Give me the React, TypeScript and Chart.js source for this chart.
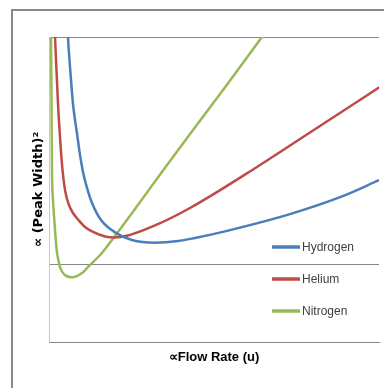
import { useEffect, useRef } from "react";
import { Chart, registerables } from "chart.js";

Chart.register(...registerables);

// ---- data ----
const seriesNames = ["Hydrogen", "Helium", "Nitrogen"];
const seriesColors = ["#4a7ebb", "#be4b48", "#98b954"];

const hydrogenX = [0.53, 0.576, 0.621, 0.667, 0.727, 0.788, 0.864, 0.939, 1.03, 1.152, 1.303, 1.576, 2.05, 2.51, 3.21, 3.91, 4.42, 5.27, 7.3, 8.82, 10.0];
const hydrogenY = [4.6, 3.961, 3.662, 3.403, 3.091, 2.883, 2.662, 2.429, 2.208, 2.0, 1.805, 1.584, 1.41, 1.325, 1.29, 1.31, 1.35, 1.43, 1.66, 1.88, 2.1];

const heliumX = [0.14, 0.182, 0.227, 0.273, 0.333, 0.409, 0.485, 0.591, 0.727, 0.894, 1.091, 1.303, 1.697, 2.0, 2.394, 3.212, 4.273, 6.303, 8.303, 10.03];
const heliumY = [4.5, 3.961, 3.532, 3.091, 2.662, 2.234, 1.974, 1.792, 1.675, 1.584, 1.494, 1.435, 1.37, 1.357, 1.383, 1.513, 1.74, 2.273, 2.831, 3.312];

const nitrogenX = [0.055, 0.061, 0.076, 0.091, 0.121, 0.161, 0.233, 0.333, 0.485, 0.706, 0.991, 1.191, 1.597, 1.948, 2.606, 3.455, 4.273, 5.364, 6.455, 7.0];
const nitrogenY = [4.6, 3.961, 3.143, 2.208, 1.844, 1.584, 1.195, 0.974, 0.87, 0.84, 0.892, 0.978, 1.152, 1.347, 1.727, 2.227, 2.701, 3.325, 3.961, 4.27];

const xMin = 0;
const xMax = 10;
const yTicks = [0, 1, 3.96];

const xTitle = "∝Flow Rate (u)";
const yTitle = "∝ (Peak Width)²";

const seriesX = [hydrogenX, heliumX, nitrogenX];
const seriesY = [hydrogenY, heliumY, nitrogenY];

const framePlugin = {
  id: "frame",
  beforeDraw(chart: any) {
    const ctx = chart.ctx;
    ctx.save();
    ctx.fillStyle = "#ffffff";
    ctx.fillRect(0, 0, chart.width, chart.height);
    ctx.strokeStyle = "#8a8a8a";
    ctx.lineWidth = 2;
    ctx.strokeRect(12, 10, chart.width + 50, chart.height + 50);
    ctx.restore();
  },
};

const legendPlugin = {
  id: "innerLegend",
  afterDraw(chart: any) {
    const { ctx, chartArea } = chart;
    const x0 = chartArea.right - 107;
    const y0 = chartArea.top + 210;
    ctx.save();
    chart.data.datasets.forEach((ds: any, i: number) => {
      const y = y0 + i * 32;
      ctx.strokeStyle = ds.borderColor;
      ctx.lineWidth = 3.5;
      ctx.lineCap = "butt";
      ctx.beginPath();
      ctx.moveTo(x0, y);
      ctx.lineTo(x0 + 28, y);
      ctx.stroke();
      ctx.fillStyle = "#404040";
      ctx.font = "12px 'Liberation Sans', Arial, sans-serif";
      ctx.textBaseline = "middle";
      ctx.textAlign = "left";
      ctx.fillText(ds.label, x0 + 30, y + 0.5);
    });
    ctx.restore();
  },
};

export default function App() {
  const ref = useRef<HTMLCanvasElement | null>(null);

  useEffect(() => {
    if (!ref.current) return;
    const datasets = seriesNames.map((name, i) => ({
      label: name,
      data: seriesX[i].map((x, j) => ({ x, y: seriesY[i][j] })),
      borderColor: seriesColors[i],
      backgroundColor: seriesColors[i],
      borderWidth: 2.5,
      pointRadius: 0,
      cubicInterpolationMode: "monotone" as const,
      fill: false,
    }));
    const chart = new Chart(ref.current, {
      type: "line",
      data: { datasets },
      options: {
        responsive: false,
        animation: false,
        layout: { padding: { left: 31.2, top: 37, right: 5, bottom: 23.2 } },
        plugins: {
          legend: { display: false },
          tooltip: { enabled: false },
        },
        scales: {
          x: {
            type: "linear",
            min: xMin,
            max: xMax,
            grid: { display: false, drawTicks: false },
            border: { display: true, color: "#868686" },
            ticks: { display: false },
            title: {
              display: true,
              text: xTitle,
              color: "#000000",
              font: { family: "'Liberation Sans', Arial, sans-serif", size: 13, weight: "bold", lineHeight: 1.2 },
              padding: { top: 7.2, bottom: 0 },
            },
          },
          y: {
            type: "linear",
            min: yTicks[0],
            max: yTicks[yTicks.length - 1],
            afterBuildTicks: (scale: any) => {
              scale.ticks = yTicks.map((v) => ({ value: v }));
            },
            grid: { display: true, color: "#868686", lineWidth: 1, drawTicks: false },
            border: { display: true, color: "#c8c8c8" },
            ticks: { display: false },
            title: {
              display: true,
              text: yTitle,
              color: "#000000",
              font: { family: "'DejaVu Sans', sans-serif", size: 13, weight: "bold", lineHeight: 1.2 },
              padding: { top: 0, bottom: 2.2 },
            },
          },
        },
      },
      plugins: [framePlugin, legendPlugin],
    });
    return () => chart.destroy();
  }, []);

  return (
    <div style={{ position: "fixed", left: 0, top: 0, width: 384, height: 388, background: "#fff" }}>
      <canvas ref={ref} width={384} height={388} style={{ display: "block" }} />
    </div>
  );
}
